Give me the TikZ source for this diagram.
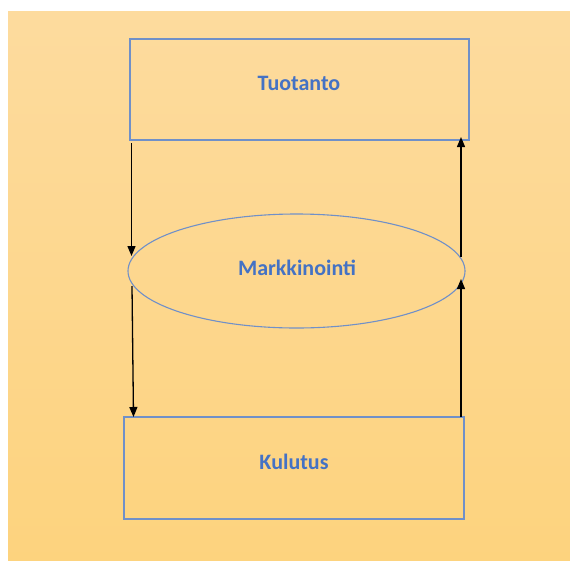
\documentclass[tikz,border=0pt]{standalone}
\usepackage{fontspec}
\setmainfont{Carlito}
\usetikzlibrary{arrows.meta,shapes.geometric}
\definecolor{bgtop}{HTML}{FDDB9E}
\definecolor{bgbot}{HTML}{FDD37E}
\definecolor{edge}{HTML}{7090C8}
\definecolor{txt}{HTML}{4472C4}
\tikzset{
  box/.style={draw=edge, line width=1.1pt, fill=none},
  lbl/.style={text=txt, font=\fontsize{22}{26}\selectfont\bfseries},
  arr/.style={draw=black, line width=1.3pt, -{Triangle[length=10pt,width=8pt]}}
}
\begin{document}
\begin{tikzpicture}[x=1pt,y=-1pt]
\useasboundingbox (0,0) rectangle (570,560);
\shade[top color=bgtop, bottom color=bgbot] (8,11) rectangle (570,560);
\draw[box] (130,39) rectangle (469,140);
\draw[box] (124,417) rectangle (464,519);
\draw[box] (296.5,271) ellipse [x radius=168.5, y radius=57];
\node[lbl] (tuo) at (299,83) {Tuotanto};
\node[lbl] (mar) at (297,268) {Markkinointi};
\node[lbl] (kul) at (294,462) {Kulutus};
\coordinate (a1s) at (131.5,143);
\coordinate (a1e) at (131.5,256);
\coordinate (a2s) at (132,286);
\coordinate (a2e) at (133.5,417);
\coordinate (b1s) at (461,417);
\coordinate (b1e) at (461,279);
\coordinate (b2s) at (461,257);
\coordinate (b2e) at (461,137);
\draw[arr] (a1s) -- (a1e);
\draw[arr] (a2s) -- (a2e);
\draw[arr] (b1s) -- (b1e);
\draw[arr] (b2s) -- (b2e);
\end{tikzpicture}
\end{document}
